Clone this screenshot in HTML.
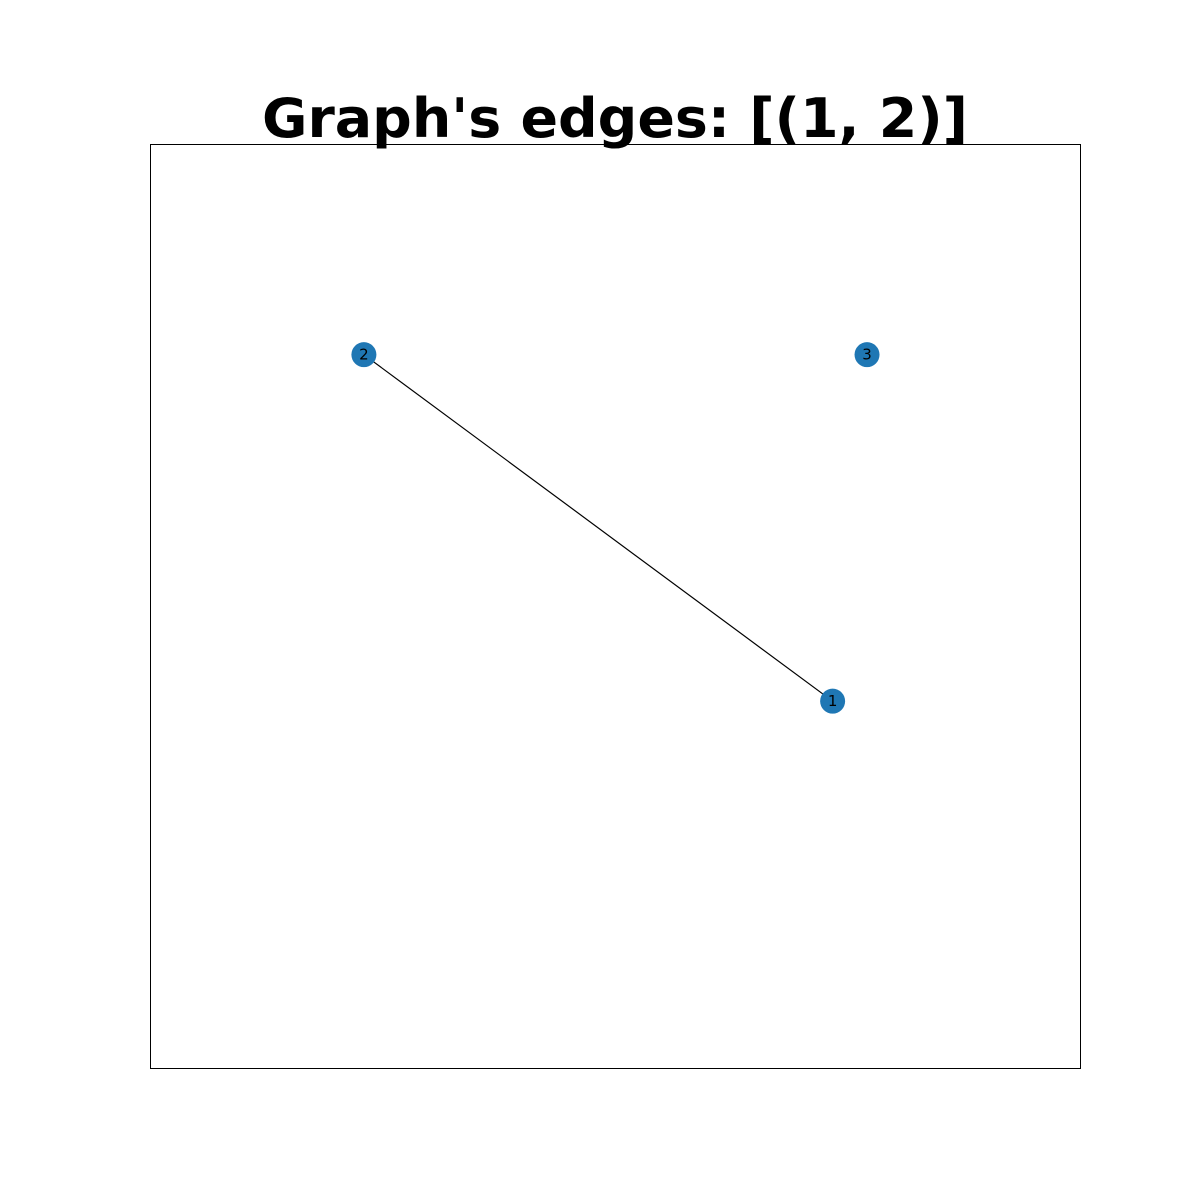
<!DOCTYPE html>
<html><head><meta charset="utf-8"><style>
body{margin:0;background:#fff;}
svg{display:block;}
</style></head><body>
<svg id="chart" width="1200" height="1200" viewBox="0 0 1200 1200">
<rect x="0" y="0" width="1200" height="1200" fill="#fff"/>
<text x="615" y="137" text-anchor="middle" font-family="DejaVu Sans, Liberation Sans, sans-serif" font-weight="bold" font-size="54" textLength="706" lengthAdjust="spacingAndGlyphs">Graph's edges: [(1, 2)]</text>
<rect x="150.5" y="144.5" width="930" height="924" fill="none" stroke="#000" stroke-width="1"/>
<g id="edges"></g>
<g id="nodes"></g>
</svg>
<script>
const nodeLabels = ["1", "2", "3"];
const nodeX = [0.734, 0.230, 0.771];
const nodeY = [0.397, 0.772, 0.772];
const edgeSource = ["1"];
const edgeTarget = ["2"];

const X0 = 150, X1 = 1080, Y0 = 1068, Y1 = 144;
function sx(v){ return X0 + v * (X1 - X0); }
function sy(v){ return Y0 - v * (Y0 - Y1); }
const NS = "http://www.w3.org/2000/svg";
const eg = document.getElementById("edges");
const ng = document.getElementById("nodes");
for (let i = 0; i < edgeSource.length; i++) {
  const a = nodeLabels.indexOf(edgeSource[i]);
  const b = nodeLabels.indexOf(edgeTarget[i]);
  const l = document.createElementNS(NS, "line");
  l.setAttribute("x1", sx(nodeX[a])); l.setAttribute("y1", sy(nodeY[a]));
  l.setAttribute("x2", sx(nodeX[b])); l.setAttribute("y2", sy(nodeY[b]));
  l.setAttribute("stroke", "#000"); l.setAttribute("stroke-width", "1.2");
  
  
  eg.appendChild(l);
}
for (let i = 0; i < nodeLabels.length; i++) {
  const c = document.createElementNS(NS, "circle");
  c.setAttribute("cx", sx(nodeX[i])); c.setAttribute("cy", sy(nodeY[i]));
  c.setAttribute("r", "12.5"); c.setAttribute("fill", "#1f77b4");
  
  
  ng.appendChild(c);
  const t = document.createElementNS(NS, "text");
  t.setAttribute("x", sx(nodeX[i])); t.setAttribute("y", sy(nodeY[i]) + 5);
  t.setAttribute("text-anchor", "middle");
  t.setAttribute("font-family", "DejaVu Sans, Liberation Sans, sans-serif");
  t.setAttribute("font-size", "15");
  t.textContent = nodeLabels[i];
  
  
  ng.appendChild(t);
}
</script>
</body></html>
